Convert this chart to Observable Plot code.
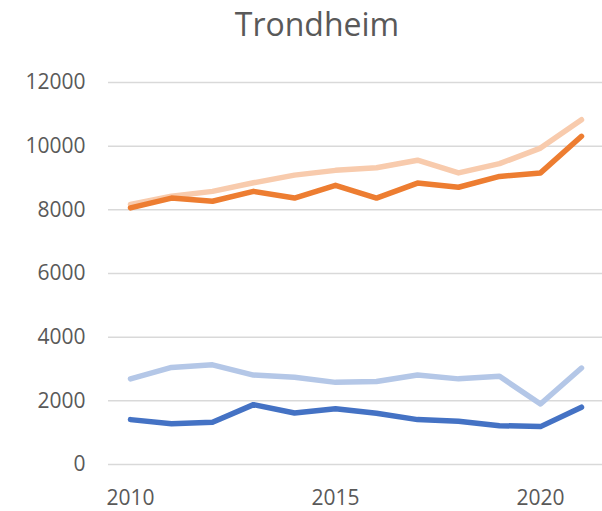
<!DOCTYPE html>
<html>
<head>
<meta charset="utf-8">
<script src="https://cdn.jsdelivr.net/npm/d3@7"></script>
<script src="https://cdn.jsdelivr.net/npm/@observablehq/plot@0.6"></script>
<style>
  html, body { margin: 0; padding: 0; background: #fff; }
  #title {
    width: 602px; height: 60px; box-sizing: border-box;
    padding-top: 2px; padding-left: 32px;
    text-align: center; line-height: 44px;
    font-family: "Open Sans", sans-serif; font-size: 32px; color: #595959;
  }
  #chart svg { display: block; }
</style>
</head>
<body>
<div id="title">Trondheim</div>
<div id="chart"></div>
<script>
const title = "Trondheim";
const years = [2010, 2011, 2012, 2013, 2014, 2015, 2016, 2017, 2018, 2019, 2020, 2021];
const seriesNames = ["Serie 1 (lys oransje)", "Serie 2 (oransje)", "Serie 3 (lys blå)", "Serie 4 (blå)"];
const seriesColors = ["#F8CBAD", "#ED7D31", "#B4C7E7", "#4472C4"];
const lightOrange = [8170, 8430, 8580, 8850, 9090, 9240, 9320, 9560, 9160, 9450, 9940, 10830];
const darkOrange  = [8060, 8370, 8270, 8580, 8370, 8770, 8370, 8840, 8710, 9050, 9160, 10310];
const lightBlue   = [2690, 3050, 3130, 2810, 2740, 2580, 2610, 2810, 2690, 2770, 1900, 3030];
const darkBlue    = [1410, 1280, 1330, 1880, 1620, 1750, 1610, 1410, 1360, 1220, 1190, 1800];
const yTicks = [0, 2000, 4000, 6000, 8000, 10000, 12000];
const xTicks = [2010, 2015, 2020];

const seriesValues = [lightOrange, darkOrange, lightBlue, darkBlue];
const data = seriesNames.flatMap((name, s) =>
  years.map((year, i) => ({ series: name, year, value: seriesValues[s][i] }))
);

const chart = Plot.plot({
  width: 602,
  height: 451,
  marginLeft: 108,
  marginRight: 0,
  marginTop: 22,
  marginBottom: 47,
  style: { fontFamily: "Open Sans, sans-serif", fontSize: "21px", color: "#595959", background: "#fff" },
  x: { type: "point", domain: years, padding: 0.5, axis: null },
  y: { domain: [0, 12000], axis: null },
  color: { domain: seriesNames, range: seriesColors },
  marks: [
    Plot.gridY(yTicks, { stroke: "#D9D9D9", strokeOpacity: 1, strokeWidth: 1.5 }),
    Plot.axisY(yTicks, { tickSize: 0, tickPadding: 23, tickFormat: d => String(d), label: null, fill: "#595959" }),
    Plot.axisX(xTicks, { tickSize: 0, tickPadding: 26, tickFormat: d => String(d), label: null, fill: "#595959" }),
    Plot.lineY(data, {
      x: "year", y: "value", z: "series", stroke: "series",
      strokeWidth: 5.5, strokeLinecap: "round", strokeLinejoin: "round"
    })
  ]
});
document.getElementById("chart").appendChild(chart);
</script>
</body>
</html>
